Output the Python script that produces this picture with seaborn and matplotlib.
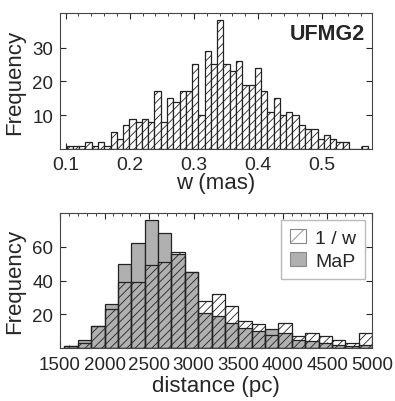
import numpy as np
import pandas as pd
import matplotlib
matplotlib.use("Agg")
import matplotlib.pyplot as plt
import seaborn as sns
from matplotlib.patches import Patch
from matplotlib.ticker import MultipleLocator, FixedLocator

# ---------------- data ----------------
# parallax histogram (UFMG2), counts per bin
w_counts = [1, 1, 1, 2, 1, 2, 1, 5, 3, 7, 9, 8, 9, 8, 17, 8, 15, 14, 17, 17,
            25, 10, 29, 25, 38, 25, 23, 26, 19, 19, 24, 17, 11, 15, 10, 11, 10,
            7, 6, 6, 3, 4, 3, 2, 2, 0, 0, 1]
w_bin_start = 0.1015
w_bin_width = 0.00978

# distance histograms, counts per 150 pc bin starting at 1550 pc
dist_bin_start = 1550
dist_bin_width = 150
dist_inv_w = [1, 3, 13, 23, 39, 39, 49, 51, 57, 45, 28, 32, 25, 16, 14, 8,
              15, 7, 9, 7, 5, 3, 9]
dist_map = [1, 5, 13, 26, 50, 62, 76, 68, 56, 45, 21, 19, 15, 12, 10, 11,
            9, 5, 4, 3, 2, 1, 2]

w_xticks = [0.1, 0.2, 0.3, 0.4, 0.5]
w_yticks = [10, 20, 30]
d_xticks = [1500, 2000, 2500, 3000, 3500, 4000, 4500, 5000]
d_yticks = [20, 40, 60]
legend_labels = ["1 / w", "MaP"]

# ---------------- style ----------------
sns.set_style("ticks")
plt.rcParams['font.family'] = ['Liberation Sans', 'DejaVu Sans']
plt.rcParams['hatch.linewidth'] = 0.6
plt.rcParams['hatch.color'] = '#222222'

TFS = 13.5   # tick labels
LFS = 16     # axis labels
EDGE = '#222222'
GRAY = '#b0b0b0'

fig = plt.figure(figsize=(3.95, 4.02), dpi=100)
ax1 = fig.add_axes([60 / 395, 1 - 150 / 402, 312 / 395, 136 / 402])
ax2 = fig.add_axes([60 / 395, 1 - 349 / 402, 312 / 395, 135 / 402])

# ---------------- top panel ----------------
w_edges = [float(e) for e in w_bin_start + w_bin_width * np.arange(len(w_counts) + 1)]
w_centers = [(a + b) / 2 for a, b in zip(w_edges[:-1], w_edges[1:])]
df_w = pd.DataFrame({"w": w_centers, "count": w_counts})
sns.histplot(data=df_w, x="w", weights="count", bins=w_edges, ax=ax1,
             facecolor='white', edgecolor=EDGE, linewidth=0.9,
             hatch='////', alpha=1)
ax1.set_xlim(0.0912, 0.5775)
ax1.set_ylim(0, 40.2)
ax1.xaxis.set_major_locator(FixedLocator(w_xticks))
ax1.set_xticklabels([f"{t:.1f}" for t in w_xticks])
ax1.xaxis.set_minor_locator(MultipleLocator(0.02))
ax1.yaxis.set_major_locator(FixedLocator(w_yticks))
ax1.set_yticklabels([str(t) for t in w_yticks])
ax1.set_xlabel("w (mas)", fontsize=LFS, labelpad=-1)
ax1.set_ylabel("Frequency", fontsize=LFS, labelpad=5)
ax1.text(0.978, 0.93, "UFMG2", transform=ax1.transAxes, ha='right', va='top',
         fontsize=15.5, fontweight='bold')

# ---------------- bottom panel ----------------
d_edges = [int(dist_bin_start + dist_bin_width * k) for k in range(len(dist_map) + 1)]
d_centers = [(a + b) / 2 for a, b in zip(d_edges[:-1], d_edges[1:])]
df_d = pd.DataFrame({"d": d_centers, "map": dist_map, "invw": dist_inv_w})
sns.histplot(data=df_d, x="d", weights="map", bins=d_edges, ax=ax2,
             facecolor=GRAY, edgecolor=EDGE, linewidth=0.9, alpha=1)
sns.histplot(data=df_d, x="d", weights="invw", bins=d_edges, ax=ax2,
             facecolor='none', edgecolor=EDGE, linewidth=0.9,
             hatch='////', alpha=1)
ax2.set_xlim(1500, 5000)
ax2.set_ylim(0, 80)
ax2.xaxis.set_major_locator(FixedLocator(d_xticks))
ax2.set_xticklabels([str(t) for t in d_xticks])
ax2.xaxis.set_minor_locator(MultipleLocator(100))
ax2.yaxis.set_major_locator(FixedLocator(d_yticks))
ax2.set_yticklabels([str(t) for t in d_yticks])
ax2.set_xlabel("distance (pc)", fontsize=LFS, labelpad=1)
ax2.set_ylabel("Frequency", fontsize=LFS, labelpad=5)

handles = [Patch(facecolor='white', edgecolor='#888888', hatch='/', linewidth=0.8),
           Patch(facecolor=GRAY, edgecolor='#888888', linewidth=0.8)]
leg = ax2.legend(handles, legend_labels, loc='upper right', fontsize=14,
                 frameon=True, fancybox=False, framealpha=1,
                 edgecolor='#bbbbbb', handlelength=0.8, handleheight=0.8,
                 handletextpad=0.5, borderpad=0.45, labelspacing=0.25,
                 borderaxespad=0.35)
leg.get_frame().set_linewidth(1.0)

for ax in (ax1, ax2):
    ax.tick_params(axis='both', which='major', direction='in', top=True,
                   right=True, length=4, width=0.8, labelsize=TFS)
    ax.tick_params(axis='x', which='major', pad=6)
    ax.tick_params(axis='y', which='major', pad=5)
    ax.tick_params(axis='x', which='minor', direction='in', top=True,
                   bottom=True, length=2, width=0.6)
    for s in ax.spines.values():
        s.set_linewidth(0.8)
        s.set_color('#444444')
ax1.tick_params(axis='x', which='major', labelsize=14, pad=5)

fig.savefig("out.png", dpi=100)
